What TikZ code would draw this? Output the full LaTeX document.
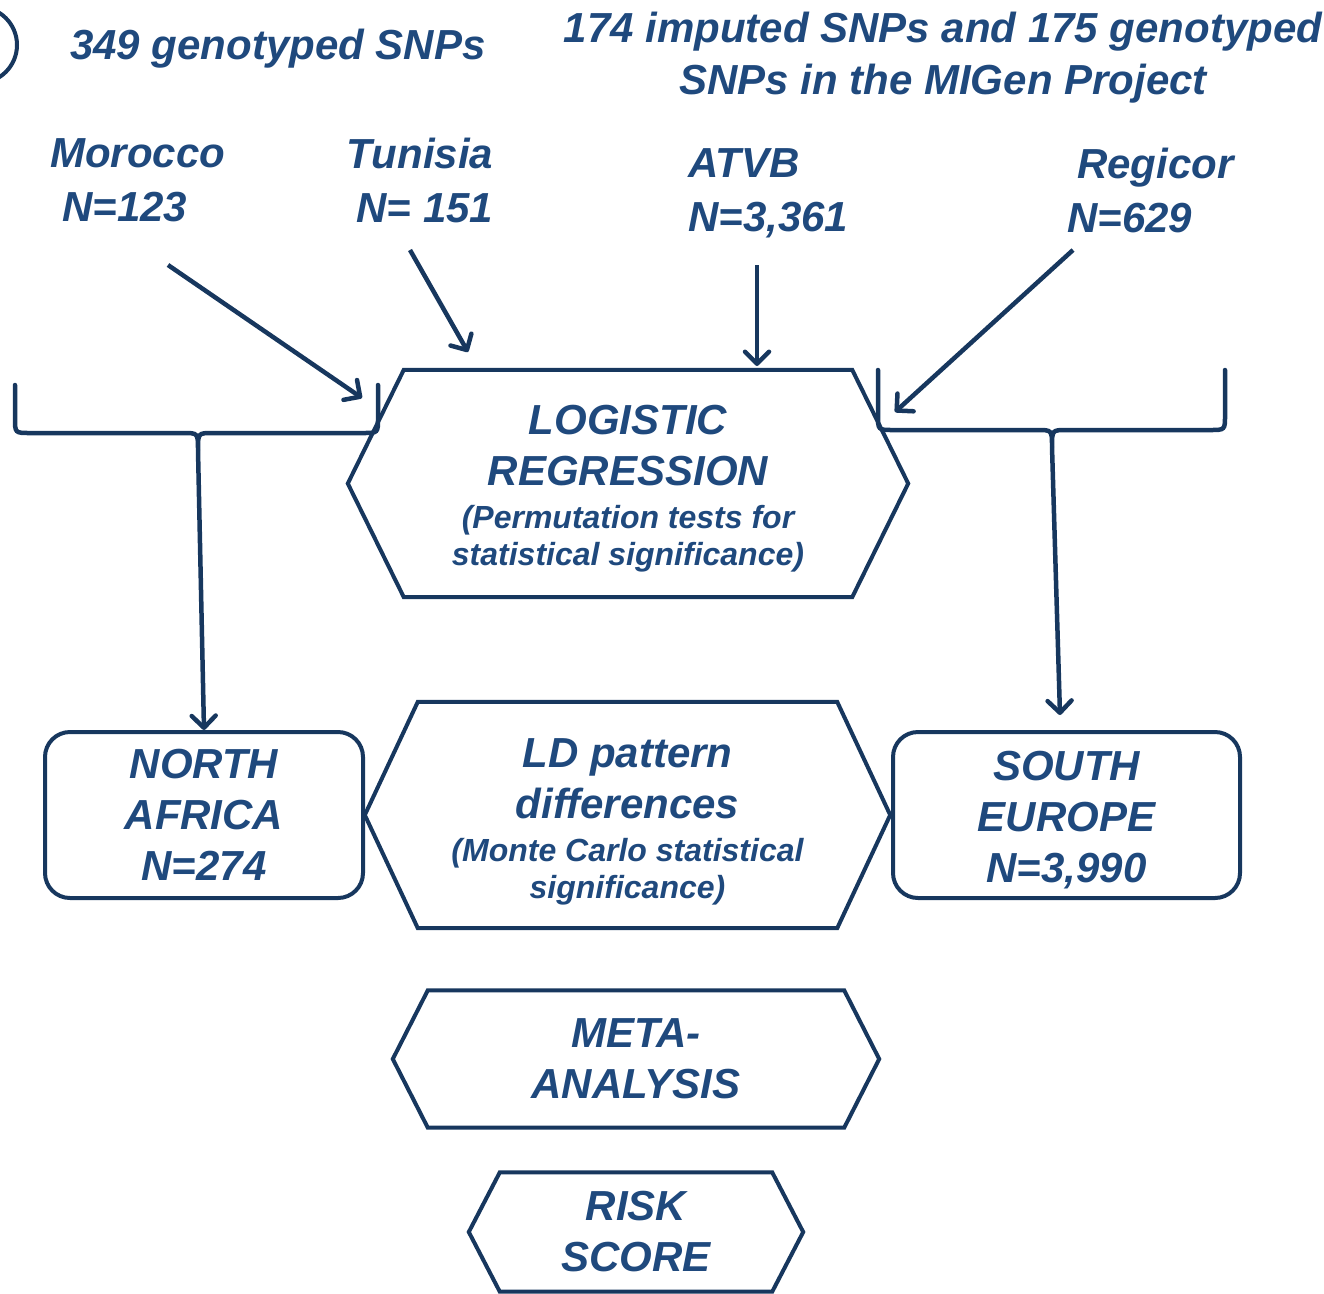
\documentclass[tikz,border=0pt]{standalone}
\usepackage{fontspec}
\setmainfont{Liberation Sans}
\usetikzlibrary{arrows.meta,positioning}
\definecolor{txtblue}{HTML}{1F497D}
\definecolor{lineblue}{HTML}{17375E}
\newcommand{\fbig}{\fontsize{42}{51}\selectfont\bfseries\itshape}
\newcommand{\fsmall}{\fontsize{32}{38}\selectfont\bfseries\itshape}
\tikzset{
    lbl/.style={font=\fbig, text=txtblue, inner sep=0pt},
    twoline/.style={lbl, font=\fontsize{42}{54}\selectfont\bfseries\itshape},
    hexnode/.style={font=\fbig, text=txtblue, inner sep=0pt, align=center},
    hexline/.style={draw=lineblue, line width=4pt, line join=miter},
    popbox/.style={draw=lineblue, line width=4pt, rounded corners=25pt,
        font=\fbig, text=txtblue, align=center, inner sep=0pt},
    arr/.style={draw=lineblue, line width=4.5pt,
        -{Straight Barb[length=12pt,width=24pt,round]}},
    brace/.style={draw=lineblue, line width=4.5pt, line cap=round},
}

\begin{document}
\begin{tikzpicture}[x=1pt, y=-1pt]
	\useasboundingbox (0,0) rectangle (1324,1293);
	\node[circle, draw=lineblue, line width=4pt, minimum size=76pt] (num) at (-21,45) {};
	\node[lbl] (geno) at (278,49) {349 genotyped SNPs};
	\node[lbl, align=center, font=\fontsize{42}{52}\selectfont\bfseries\itshape] (migen) at (943,58)
		{174 imputed SNPs and 175 genotyped\\SNPs in the MIGen Project};
	% cohorts
	\node[twoline, align=left, anchor=west] (mor) at (50,180) {Morocco\\\hspace*{12pt}N=123};
	\node[twoline, align=right] (tun) at (420,180) {Tunisia\\N= 151};
	\node[twoline, align=left, anchor=west] (atvb) at (688,193) {ATVB\\N=3,361};
	\node[twoline, align=left, anchor=west] (reg) at (1067,190) {\hspace*{10pt}Regicor\\N=629};
	% analysis steps
	\node[hexnode, minimum width=560pt, minimum height=227pt] (logreg) at (628,483.5)
		{\rule{0pt}{40pt}LOGISTIC\\REGRESSION\\[-8pt]\fsmall (Permutation tests for\\[-14pt]\fsmall statistical significance)};
	\node[hexnode, minimum width=525pt, minimum height=226pt] (ldpat) at (627.5,815)
		{\rule{0pt}{42pt}LD pattern\\differences\\[-8pt]\fsmall (Monte Carlo statistical\\[-14pt]\fsmall significance)};
	\node[hexnode, minimum width=486pt, minimum height=137pt] (meta) at (636,1059) {META-\\ANALYSIS};
	\node[hexnode, minimum width=334pt, minimum height=119pt] (risk) at (636,1232) {RISK\\SCORE};
	\foreach \n/\s in {logreg/56,ldpat/53,meta/35,risk/31}
		\draw[hexline] ([xshift=\s pt]\n.north west) -- ([xshift=-\s pt]\n.north east) -- (\n.east)
			-- ([xshift=-\s pt]\n.south east) -- ([xshift=\s pt]\n.south west) -- (\n.west) -- cycle;
	% populations
	\node[popbox, minimum width=318pt, minimum height=166pt] (na) at (204,815) {NORTH\\AFRICA\\N=274};
	\node[popbox, minimum width=347pt, minimum height=166pt] (se) at (1066.5,815) {\rule{0pt}{39pt}SOUTH\\EUROPE\\N=3,990};
	% arrows from cohorts
	\coordinate (mora) at (168,265);  \coordinate (morb) at (362,398);
	\coordinate (tuna) at (410,250);  \coordinate (tunb) at (468,352);
	\coordinate (atvba) at (757,265); \coordinate (atvbb) at (757,366);
	\coordinate (rega) at (1073,250); \coordinate (regb) at (895,412);
	\foreach \s in {mor,tun,atvb,reg}
		\draw[arr] (\s a) -- (\s b);
	% braces
	\draw[brace] (15,385) -- (15,418) .. controls (15,433) .. (30,433) -- (183,433)
		.. controls (198,433) .. (198,450) .. controls (198,433) .. (213,433) -- (363,433)
		.. controls (378,433) .. (378,418) -- (378,385);
	\draw[brace] (878,370) -- (878,415) .. controls (878,430) .. (893,430) -- (1037,430)
		.. controls (1052,430) .. (1052,447) .. controls (1052,430) .. (1067,430) -- (1210,430)
		.. controls (1225,430) .. (1225,415) -- (1225,370);
	\coordinate (ltip) at (198,450);
	\coordinate (rtip) at (1052,447);
	\coordinate (seend) at (1060,715);
	\draw[arr] (ltip) -- (na.north);
	\draw[arr] (rtip) -- (seend);
\end{tikzpicture}
\end{document}
